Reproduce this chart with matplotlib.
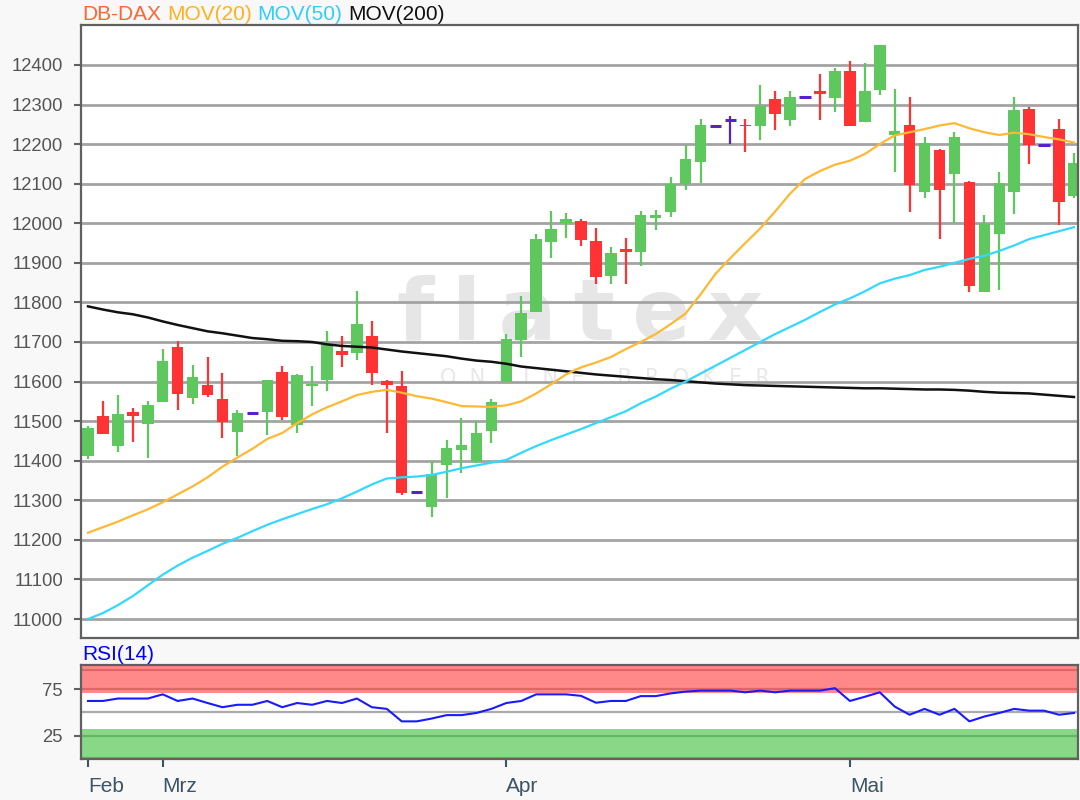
import matplotlib
matplotlib.use('Agg')
import matplotlib.pyplot as plt
import numpy as np

plt.rcParams['font.family'] = ['Liberation Sans', 'DejaVu Sans']

# ---------------- data ----------------
opens = [11413, 11512, 11438, 11522, 11492, 11548, 11687, 11558, 11592, 11557,
         11473, 11520, 11523, 11625, 11490, 11590, 11603, 11676, 11672, 11716,
         11601, 11590, 11322, 11283, 11390, 11426, 11397, 11475, 11600, 11705,
         11777, 11953, 12000, 12006, 11954, 11868, 11935, 11928, 12013, 12028,
         12100, 12155, 12247, 12260, 12249, 12245, 12314, 12261, 12318, 12333,
         12316, 12386, 12257, 12337, 12222, 12249, 12079, 12184, 12125, 12104,
         11827, 11974, 12079, 12289, 12198, 12239, 12069]
highs = [11488, 11552, 11567, 11533, 11552, 11682, 11702, 11642, 11662, 11622,
         11528, 11520, 11605, 11640, 11618, 11640, 11727, 11716, 11828, 11752,
         11605, 11626, 11322, 11399, 11452, 11508, 11500, 11555, 11720, 11815,
         11974, 12031, 12026, 12010, 11989, 11939, 11964, 12031, 12033, 12116,
         12199, 12264, 12247, 12270, 12264, 12350, 12335, 12335, 12318, 12376,
         12392, 12411, 12405, 12451, 12339, 12320, 12219, 12188, 12230, 12108,
         12022, 12129, 12320, 12295, 12198, 12264, 12178]
lows = [11405, 11467, 11423, 11447, 11407, 11548, 11528, 11543, 11562, 11457,
        11411, 11520, 11465, 11503, 11470, 11539, 11576, 11637, 11654, 11592,
        11471, 11313, 11322, 11259, 11305, 11370, 11395, 11445, 11600, 11661,
        11777, 11912, 11962, 11942, 11847, 11847, 11847, 11893, 11982, 12017,
        12085, 12102, 12247, 12201, 12180, 12211, 12236, 12245, 12318, 12261,
        12281, 12245, 12257, 12323, 12129, 12029, 12065, 11959, 12000, 11827,
        11827, 11831, 12024, 12150, 12198, 11995, 12065]
closes = [11482, 11467, 11517, 11513, 11542, 11652, 11568, 11612, 11567, 11498,
          11521, 11520, 11605, 11511, 11617, 11595, 11693, 11668, 11746, 11622,
          11592, 11319, 11322, 11367, 11433, 11439, 11469, 11548, 11708, 11774,
          11960, 11985, 12010, 11958, 11864, 11924, 11928, 12020, 12020, 12100,
          12163, 12249, 12247, 12260, 12245, 12296, 12276, 12320, 12318, 12327,
          12386, 12245, 12335, 12451, 12234, 12096, 12203, 12085, 12219, 11841,
          11999, 12102, 12285, 12197, 12198, 12054, 12153]

ma20 = [11218, 11232, 11246, 11262, 11277, 11295, 11315, 11335, 11358, 11385,
        11408, 11430, 11455, 11470, 11495, 11517, 11535, 11550, 11566, 11574,
        11579, 11572, 11563, 11557, 11548, 11538, 11537, 11536, 11540, 11550,
        11570, 11593, 11618, 11636, 11648, 11662, 11682, 11700, 11720, 11745,
        11772, 11820, 11872, 11912, 11950, 11987, 12030, 12075, 12112, 12132,
        12148, 12158, 12175, 12200, 12222, 12230, 12238, 12247, 12253, 12240,
        12230, 12223, 12229, 12225, 12218, 12212, 12204]
ma50 = [11000, 11015, 11035, 11058, 11085, 11112, 11135, 11155, 11172, 11190,
        11205, 11222, 11238, 11252, 11265, 11278, 11290, 11305, 11322, 11340,
        11355, 11358, 11360, 11364, 11372, 11381, 11388, 11395, 11402, 11420,
        11437, 11452, 11466, 11480, 11495, 11510, 11525, 11545, 11562, 11582,
        11600, 11620, 11640, 11660, 11680, 11700, 11720, 11738, 11756, 11776,
        11795, 11810, 11828, 11848, 11860, 11869, 11882, 11890, 11900, 11910,
        11918, 11930, 11944, 11960, 11970, 11980, 11990]
ma200 = [11790, 11782, 11775, 11770, 11762, 11752, 11743, 11735, 11727, 11722,
         11716, 11710, 11707, 11703, 11702, 11700, 11694, 11690, 11688, 11686,
         11681, 11676, 11672, 11668, 11664, 11658, 11653, 11650, 11645, 11638,
         11634, 11630, 11626, 11622, 11618, 11615, 11612, 11609, 11606, 11604,
         11601, 11598, 11595, 11593, 11591, 11590, 11589, 11588, 11587, 11586,
         11585, 11584, 11583, 11583, 11582, 11581, 11580, 11580, 11579, 11577,
         11574, 11572, 11571, 11570, 11567, 11564, 11561]
rsi = [62.3, 62.3, 64.9, 64.9, 64.9, 69.4, 62.3, 64.9, 60.1, 55.6,
       58.2, 58.2, 62.3, 55.6, 60.1, 58.2, 62.3, 60.1, 64.9, 55.6,
       53.8, 40.4, 40.4, 43.4, 47.1, 47.1, 49.4, 53.8, 60.1, 62.3,
       69.4, 69.4, 69.4, 67.8, 60.4, 62.3, 62.3, 67.5, 67.5, 70.4,
       72.3, 73.4, 73.4, 73.4, 71.6, 73.4, 71.6, 73.4, 73.4, 73.4,
       76.0, 62.3, 66.8, 71.6, 56.3, 47.5, 53.8, 47.5, 53.8, 40.4,
       45.6, 49.4, 53.8, 51.9, 51.9, 47.5, 49.4]

month_labels = ['Feb', 'Mrz', 'Apr', 'Mai']
month_idx = [0, 5, 28, 51]
price_ticks = [11000, 11100, 11200, 11300, 11400, 11500, 11600, 11700,
               11800, 11900, 12000, 12100, 12200, 12300, 12400]
rsi_ticks = [25, 75]

header_texts = ['DB-DAX', 'MOV(20)', 'MOV(50)', 'MOV(200)']
header_colors = ['#ff6633', '#ffb020', '#33ccff', '#111111']

# ---------------- style ----------------
W, H = 1080, 800
GREEN = '#5ec75e'
RED = '#ff3333'
PURPLE = '#5522cc'
FRAME = '#606060'
TICKC = '#555555'
LBL = 13.3
HDR = 15

fig = plt.figure(figsize=(W / 100, H / 100), dpi=100, facecolor='#f8f8f8')

# main price axes
ax = fig.add_axes([81 / W, 1 - 638 / H, 997 / W, 613 / H])
ax.set_facecolor('white')
ax.set_xlim(-0.47, 66.27)
ax.set_ylim(10952, 12501)
ax.set_yticks(price_ticks)
ax.set_yticklabels([str(t) for t in price_ticks])
ax.yaxis.grid(True, color='#a3a3a3', lw=2)
ax.set_axisbelow(True)
ax.tick_params(axis='y', length=5, width=1.5, color=FRAME, pad=8,
               labelsize=LBL, labelcolor=TICKC)
ax.tick_params(axis='x', bottom=False, labelbottom=False)
for s in ax.spines.values():
    s.set_color(FRAME)
    s.set_linewidth(1.6)

# watermark
ts = '\u2009'
ax.text(580 / W, 1 - 340 / H, ts.join('flatex'), transform=fig.transFigure,
        fontsize=62, fontweight='bold', color='#e6e6e6', ha='center',
        va='baseline', family='DejaVu Sans', zorder=0.2)
ax.text(605 / W, 1 - 378 / H, 'O  N  L  I  N  E     B  R  O  K  E  R',
        transform=fig.transFigure, fontsize=15, color='#e8e8e8',
        ha='center', va='center', family='DejaVu Sans', zorder=0.2)

# candles
x = np.arange(len(opens))
o = np.array(opens, float)
c = np.array(closes, float)
hi = np.array(highs, float)
lo = np.array(lows, float)
cols = np.where(c > o, GREEN, np.where(c < o, RED, PURPLE))
ax.vlines(x, lo, hi, colors=cols, lw=1.6, zorder=2)
body = np.abs(c - o)
nz = body > 0
ax.bar(x[nz], body[nz], bottom=np.minimum(o, c)[nz], width=0.77,
       color=cols[nz], zorder=2.1, linewidth=0)
dz = ~nz
ax.hlines(c[dz], x[dz] - 0.385, x[dz] + 0.385, colors=PURPLE, lw=2.2,
          zorder=2.1)

# moving averages
ax.plot(x, ma200, color='#111111', lw=1.8, zorder=3)
ax.plot(x, ma50, color='#33d8ff', lw=1.6, zorder=3)
ax.plot(x, ma20, color='#ffb833', lw=1.6, zorder=3)

# header legend
r = fig.canvas.get_renderer()
xpos = 82
for txt, col in zip(header_texts, header_colors):
    t = fig.text(xpos / W, 1 - 14 / H, txt, color=col, fontsize=HDR,
                 ha='left', va='center')
    bb = t.get_window_extent(renderer=r)
    xpos = bb.x1 + 6

# RSI axes
ax2 = fig.add_axes([81 / W, 1 - 759 / H, 997 / W, 94 / H])
ax2.set_facecolor('white')
ax2.set_xlim(-0.47, 66.27)
ax2.set_ylim(0, 100.9)
ax2.axhspan(70.4, 100.9, color='#ff8888', lw=0, zorder=0.3)
ax2.axhspan(0, 32.3, color='#88d888', lw=0, zorder=0.3)
ax2.axhline(95.3, color='#e06565', lw=1.6, zorder=0.6)
ax2.axhline(75, color='#e06565', lw=1.6, zorder=0.6)
ax2.axhline(50, color='#aaaaaa', lw=1.6, zorder=0.6)
ax2.axhline(25, color='#62b862', lw=1.6, zorder=0.6)
ax2.axhline(1.0, color='#62b862', lw=1.6, zorder=0.6)
ax2.plot(x, rsi, color='#1a1aff', lw=1.5, zorder=3)
ax2.set_yticks(rsi_ticks)
ax2.set_yticklabels([str(t) for t in rsi_ticks])
ax2.tick_params(axis='y', length=5, width=1.5, color=FRAME, pad=8,
                labelsize=LBL, labelcolor=TICKC)
ax2.set_xticks(month_idx)
ax2.set_xticklabels(month_labels, ha='left')
ax2.tick_params(axis='x', length=6, width=1.5, color='#3d5466', pad=7,
                labelsize=HDR, labelcolor='#3d5466')
for s in ax2.spines.values():
    s.set_color(FRAME)
    s.set_linewidth(1.6)

fig.text(82 / W, 1 - 654 / H, 'RSI(14)', color='#0000ff', fontsize=HDR,
         ha='left', va='center')

fig.savefig('out.png', dpi=100, facecolor=fig.get_facecolor())
